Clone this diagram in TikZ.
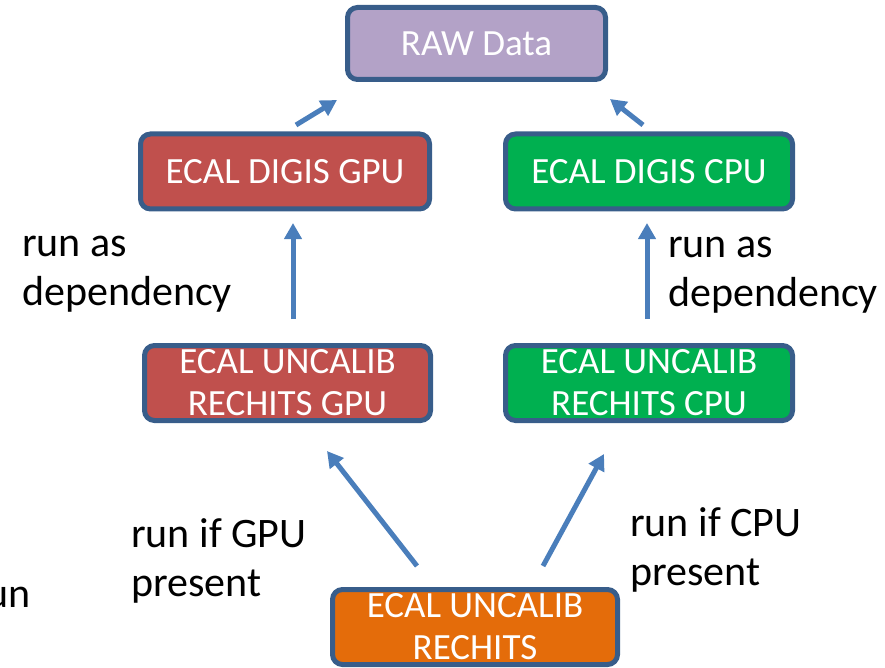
\documentclass[tikz,border=0pt]{standalone}
\usepackage{fontspec}
\setmainfont{Carlito}
\usepackage{tikz}
\usetikzlibrary{arrows.meta,positioning}
\definecolor{BoxEdge}{HTML}{385D8A}
\definecolor{RawLilac}{HTML}{B3A2C7}
\definecolor{GpuRed}{HTML}{C0504D}
\definecolor{CpuGreen}{HTML}{00B050}
\definecolor{HitOrange}{HTML}{E46C0A}
\definecolor{ArrowBlue}{HTML}{4A7EBB}

\begin{document}
\begin{tikzpicture}[x=1pt, y=-1pt,
      box/.style={rectangle, rounded corners=10pt, draw=BoxEdge, line width=5pt,
                  minimum height=75pt, minimum width=287pt, align=center, text=white,
                  inner sep=0pt, font=\fontsize{37}{42}\selectfont},
      arrow/.style={-{Triangle[length=16pt,width=17pt]}, line width=5pt, draw=ArrowBlue},
      lbl/.style={anchor=base west, inner sep=0pt, align=left,
                  font=\fontsize{42}{49}\selectfont}
    ]
      \clip (0,0) rectangle (885,668);
      \node[box, minimum width=258pt, minimum height=72pt, fill=RawLilac] (raw) at (476.5,43.5) {RAW Data};
      \node[box, minimum width=289pt, fill=GpuRed]   (digigpu) at (285,171.5) {ECAL DIGIS GPU};
      \node[box, fill=CpuGreen] (digicpu) at (649,171.5) {ECAL DIGIS CPU};
      \node[box, minimum width=286pt, fill=GpuRed]   (uncgpu) at (287.5,383) {ECAL UNCALIB\\RECHITS GPU};
      \node[box, fill=CpuGreen] (unccpu) at (649,383) {ECAL UNCALIB\\RECHITS CPU};
      \node[box, minimum width=285pt, fill=HitOrange] (unc) at (475,627) {ECAL UNCALIB\\RECHITS};
      \coordinate (g1) at (296,125);  \coordinate (g1t) at (337,100);
      \coordinate (c1) at (643,125);  \coordinate (c1t) at (610,99);
      \coordinate (g2) at (293,319);  \coordinate (g2t) at (293,223);
      \coordinate (c2) at (647,319);  \coordinate (c2t) at (647,223);
      \coordinate (g3) at (417,566);  \coordinate (g3t) at (327,451);
      \coordinate (c3) at (543,566);  \coordinate (c3t) at (604,454);
      \foreach \a/\b in {g1/g1t, c1/c1t, g2/g2t, c2/c2t, g3/g3t, c3/c3t}{
        \draw[arrow] (\a)--(\b);
      }
      \node[lbl] (depgpu) at (22,305)  {run as\\dependency};
      \node[lbl] (depcpu) at (668,306) {run as\\dependency};
      \node[lbl] (ifgpu)  at (131,596) {run if GPU\\present};
      \node[lbl] (ifcpu)  at (630,585) {run if CPU\\present};
      \node[lbl, anchor=base east] (runcut) at (31,607) {run};
    \end{tikzpicture}
\end{document}
